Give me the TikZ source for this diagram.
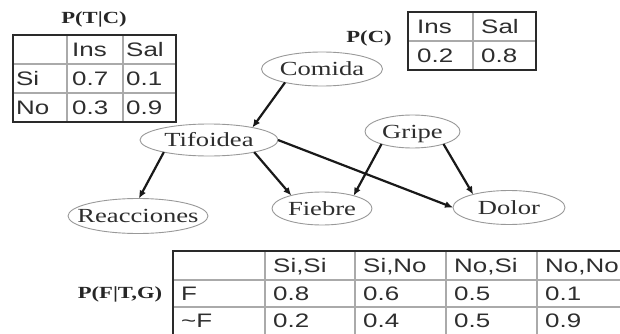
\documentclass[tikz,border=0pt]{standalone}
\usepackage{fontspec}
\setmainfont{Liberation Serif}[FakeStretch=1.33]
\newfontfamily\tabfont{Liberation Sans}[FakeStretch=1.33]
\usetikzlibrary{arrows.meta,shapes.geometric}
\definecolor{txt}{HTML}{2E2E2E}
\definecolor{ell}{HTML}{999999}
\definecolor{gridc}{HTML}{AAAAAA}
\definecolor{framec}{HTML}{2A2A2A}
\begin{document}
\begin{tikzpicture}[x=1pt,y=-1pt,
  var/.style={ellipse, draw=ell, line width=0.9pt, text=txt, inner sep=0pt, outer sep=0pt,
    font=\fontsize{20}{24}\selectfont, text height=13.2pt, text depth=0pt},
  edge/.style={line width=2.2pt, draw=black!90, -{Latex[length=8pt,width=7pt]}},
  cell/.style={anchor=base west, inner sep=0pt, text=txt, font=\tabfont\fontsize{19.5}{22}\selectfont},
  lbl/.style={inner sep=0pt, text=black!85, font=\fontsize{17}{20}\selectfont\bfseries},
  gridline/.style={draw=gridc, line width=1.3pt},
  frameline/.style={draw=framec, line width=1.4pt},
  heavyline/.style={draw=framec, line width=2.6pt}]
\useasboundingbox (0,0) rectangle (620,334);
\clip (0,0) rectangle (620,334);
\fill[white] (0,0) rectangle (620,334);

% ---------- Table P(T|C) ----------
\node[lbl] (lTC) at (94,19) {P(T|C)};
\draw[gridline] (67,35) -- (67,122) (123,35) -- (123,122)
                (13,64) -- (176,64) (13,93) -- (176,93);
\draw[frameline] (13,35) rectangle (176,122);
\draw[heavyline] (13,34) -- (13,123);
\draw[draw=framec, line width=2pt] (13,122) -- (176,122);
\node[cell] (a11) at (72,56.5) {Ins};
\node[cell] (a12) at (126,56.5) {Sal};
\node[cell] (a20) at (16,85.5) {Si};
\node[cell] (a21) at (72,85.5) {0.7};
\node[cell] (a22) at (126,85.5) {0.1};
\node[cell] (a30) at (16,114.5) {No};
\node[cell] (a31) at (72,114.5) {0.3};
\node[cell] (a32) at (126,114.5) {0.9};

% ---------- Table P(C) ----------
\node[lbl] (lC) at (369,38) {P(C)};
\draw[gridline] (473,12) -- (473,70) (408,41) -- (536,41);
\draw[frameline] (408,12) rectangle (536,70);
\node[cell] (b11) at (417,33.5) {Ins};
\node[cell] (b12) at (481,33.5) {Sal};
\node[cell] (b21) at (417,62.5) {0.2};
\node[cell] (b22) at (481,62.5) {0.8};

% ---------- Table P(F|T,G) ----------
\node[lbl] (lF) at (120,294) {P(F|T,G)};
\draw[gridline] (265,251) -- (265,336) (355,251) -- (355,336)
                (446,251) -- (446,336) (537,251) -- (537,336)
                (173,280) -- (628,280) (173,307) -- (628,307);
\draw[frameline] (173,251) -- (628,251);
\draw[heavyline] (173,250) -- (173,336);
\node[cell] (c12) at (273,272.5) {Si,Si};
\node[cell] (c13) at (363,272.5) {Si,No};
\node[cell] (c14) at (454,272.5) {No,Si};
\node[cell] (c15) at (545,272.5) {No,No};
\node[cell] (c21) at (181,300.5) {F};
\node[cell] (c22) at (273,300.5) {0.8};
\node[cell] (c23) at (363,300.5) {0.6};
\node[cell] (c24) at (454,300.5) {0.5};
\node[cell] (c25) at (545,300.5) {0.1};
\node[cell] (c31) at (181,327.5) {\textasciitilde F};
\node[cell] (c32) at (273,327.5) {0.2};
\node[cell] (c33) at (363,327.5) {0.4};
\node[cell] (c34) at (454,327.5) {0.5};
\node[cell] (c35) at (545,327.5) {0.9};

% ---------- Network ----------
\node[var, minimum width=121pt, minimum height=34pt] (comida) at (322,69) {\makebox[0pt]{Comida}};
\node[var, minimum width=138pt, minimum height=32pt] (tif) at (209,140) {\makebox[0pt]{Tifoidea}};
\node[var, minimum width=95pt, minimum height=33pt] (gripe) at (412.5,131.5) {\makebox[0pt]{Gripe}};
\node[var, minimum width=140pt, minimum height=35pt] (reac) at (138,216) {\makebox[0pt]{Reacciones}};
\node[var, minimum width=100pt, minimum height=33pt] (fiebre) at (322,208.5) {\makebox[0pt]{Fiebre}};
\node[var, minimum width=112pt, minimum height=34pt] (dolor) at (509,207.5) {\makebox[0pt]{Dolor}};

\draw[edge] (comida.200) -- (tif.16);
\draw[edge] (tif.195) -- (reac.87);
\draw[edge] (tif.345) -- (fiebre.157);
\draw[edge] (tif.0) -- (dolor.180);
\draw[edge] (gripe.202) -- (fiebre.22);
\draw[edge] (gripe.338) -- (dolor.160);
\end{tikzpicture}
\end{document}
